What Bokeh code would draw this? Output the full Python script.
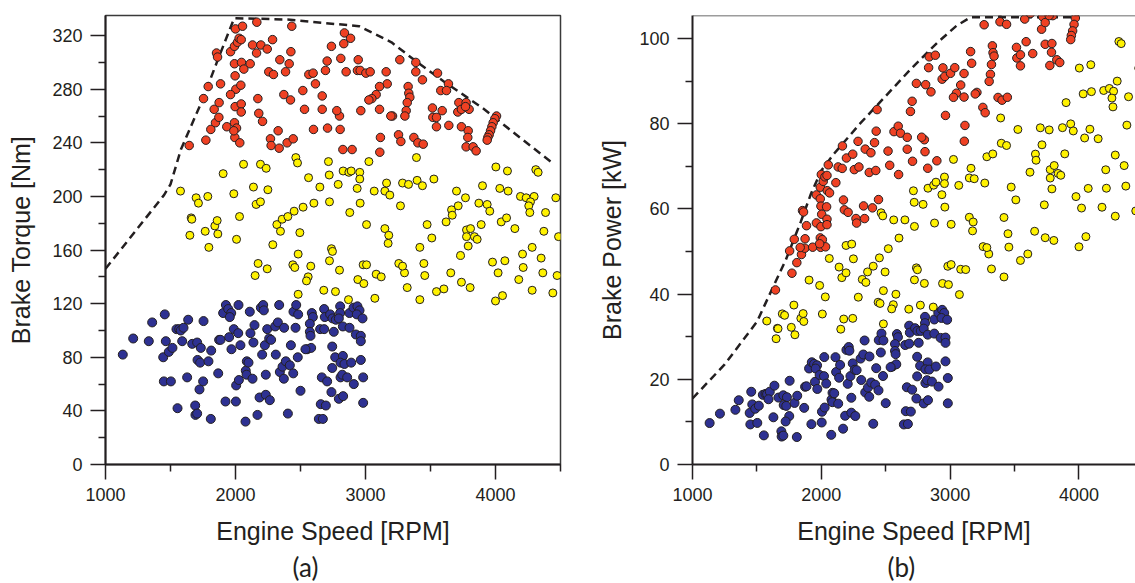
import math
from bokeh.plotting import figure
from bokeh.layouts import row
from bokeh.models import FixedTicker, Span, Title, Range1d
from bokeh.embed import file_html
from bokeh.resources import INLINE

# ---------------- data ----------------
blue_rpm = [1133, 1213, 1333, 1359, 1456, 1464, 1444, 1487, 1515, 1449,
            1503, 1554, 1546, 1567, 1579, 1600, 1636, 1590, 1628, 1667,
            1705, 1733, 1754, 1708, 1728, 1792, 1813, 1751, 1723, 1690,
            1692, 1705, 1810, 1867, 1874, 1885, 1905, 1926, 1944, 1967,
            1956, 1951, 1969, 1987, 2021, 2038, 2023, 1923, 2003, 2005,
            2026, 2079, 2085, 2087, 2100, 2131, 2077, 2110, 2115, 2138,
            2146, 2185, 2169, 2205, 2195, 2213, 2218, 2226, 2244, 2233,
            2264, 2233, 2259, 2274, 2305, 2310, 2336, 2326, 2341, 2362,
            2374, 2387, 2372, 2418, 2403, 2426, 2444, 2446, 2467, 2462,
            2479, 2500, 2482,
            2587, 2595, 2572, 2572, 2577, 2551, 2582, 2538, 2682, 2687,
            2728, 2746, 2772, 2805, 2805, 2795, 2826, 2877, 2877, 2908,
            2938, 2954, 2933, 2977, 2651, 2682, 2756, 2926, 2964, 2964,
            2744, 2767, 2826, 2808, 2838, 2890, 2964, 2744, 2664, 2705,
            2808, 2821, 2859, 2982, 2910, 2738, 2795, 2828, 2982, 2656,
            2695, 2641, 2672]
blue_torque = [82, 94, 92, 106, 112, 92, 80, 84, 87, 62,
               62, 42, 101, 101, 100, 102, 108, 92, 65, 90,
               91, 87, 107, 78, 76, 77, 85, 62, 56, 44,
               37, 38, 34, 68, 93, 93, 113, 119, 116, 113,
               110, 95, 86, 101, 98, 89, 119, 47, 47, 59,
               63, 70, 67, 77, 76, 64, 32, 114, 98, 91,
               104, 50, 37, 82, 117, 119, 115, 89, 101, 52,
               48, 67, 94, 93, 103, 82, 119, 106, 69, 73,
               102, 77, 64, 74, 38, 89, 68, 114, 119, 102,
               80, 55, 112,
               113, 110, 105, 99, 96, 86, 87, 86, 116, 110,
               112, 109, 108, 118, 113, 109, 103, 113, 102, 117,
               118, 115, 112, 109, 101, 101, 99, 97, 96, 92,
               88, 80, 81, 76, 75, 76, 78, 72, 65, 62,
               65, 67, 65, 65, 60, 54, 49, 51, 46, 45,
               44, 34, 34]

yellow_rpm = [1577, 1697, 1715, 1787, 1659, 1664, 1649, 1767, 1841, 1859,
              1864, 1795, 1905, 1987, 2031, 2008, 2062, 2138, 2159, 2192,
              2249, 2192, 2236, 2318, 2346, 2359, 2403, 2451, 2464, 2477,
              2287, 2495,
              2174, 2151, 2244, 2441, 2456, 2482, 2482,
              2715, 3026, 3392, 2562, 2649, 2721, 2790, 2828, 2872, 2890,
              2956, 2956, 2936, 3067, 3149, 3162, 3187, 3285, 3331, 3397,
              3438, 3526, 2603, 2723, 2959, 2879, 3269, 3008, 3149, 3179,
              3174, 2738, 3418, 3510, 3474, 3620, 3662, 3667, 3713, 3700,
              3769, 3872, 3936, 3956, 3900, 4003, 4092, 4310, 4328, 4033,
              4097, 4192, 4236, 4297, 4269, 4256, 4264, 4464, 4385, 3890,
              4044, 4085, 4149, 3777, 3808, 3777, 3838, 3859, 3790, 4282,
              4372, 4485, 2520,
              2579, 2559, 2546, 2723, 2800, 2679, 2769, 2869, 2941, 2987,
              2982, 3008, 3082, 3121, 3072, 3256, 3300, 3285, 3321, 3418,
              3449, 3456, 3546, 3603, 3656, 3731, 3738, 3805, 3977, 4020,
              4072, 4000, 4054, 4179, 4213, 4208, 4282, 4351, 4364, 4441,
              4474, 2746]
yellow_torque = [204, 199, 195, 200, 184, 183, 171, 174, 178, 182,
                 172, 162, 217, 202, 185, 168, 224, 207, 194, 196,
                 205, 224, 221, 179, 174, 183, 185, 189, 229, 225,
                 164, 173,
                 150, 141, 146, 149, 147, 127, 157,
                 226, 226, 229, 214, 207, 216, 209, 219, 218, 219,
                 218, 213, 206, 204, 204, 210, 201, 210, 209, 212,
                 208, 213, 195, 196, 195, 188, 193, 179, 176, 171,
                 165, 161, 162, 169, 179, 181, 190, 186, 193, 204,
                 199, 195, 194, 189, 208, 222, 219, 220, 218, 206,
                 204, 200, 199, 200, 196, 193, 188, 199, 188, 179,
                 181, 184, 176, 175, 176, 170, 170, 168, 163, 162,
                 174, 170, 192,
                 148, 140, 137, 152, 145, 130, 129, 123, 138, 135,
                 149, 149, 142, 140, 124, 150, 143, 148, 132, 123,
                 150, 141, 129, 131, 143, 156, 136, 132, 151, 143,
                 152, 122, 126, 138, 147, 157, 130, 154, 143, 128,
                 141, 159]

red_rpm = [1644, 1772, 1810, 1846, 1872, 1836, 1874, 1754, 1790, 1885,
           1854, 1862, 1962, 1992, 2000, 2054, 2015, 2028, 2044, 2164,
           2131, 2162, 2195, 2244, 2285, 2433, 2426, 2341, 2413, 2385,
           2256, 2292, 1992, 2046, 2113, 2064, 1997, 2003, 2041, 1962,
           2172, 2372, 2423, 1997, 2044, 2044, 2179, 2208, 1933, 1992,
           2008, 1995, 2033, 1987, 2269, 2328, 2274, 2336, 2397, 2444,
           2838, 2885, 2833, 2738, 2705, 2810, 2944, 2692, 2851, 2938,
           2959, 3003, 3036, 3159, 3264, 3387, 3387, 3438, 3554, 3638,
           3579, 3623, 2564, 2597, 2615, 2518, 2667, 3167, 3108, 3082,
           3049, 3026, 3328, 3333, 3341, 3321, 3313, 3303, 3208, 3195,
           3108, 2964, 2800, 2779, 2667, 2531, 3515, 3518, 3546, 3590,
           3546, 3641, 3718, 3774, 3710, 3738, 3797, 3769, 3738, 3790,
           3787, 3774, 3828, 3851, 4008, 3995, 3982, 3972, 3962, 3951,
           3941, 3936, 2600, 2708, 2805, 2826, 2897, 3115, 3110, 3254,
           3272, 3372, 3403, 3444]
red_torque = [238, 242, 250, 255, 259, 265, 270, 273, 282, 284,
              307, 304, 308, 312, 325, 327, 315, 318, 317, 330,
              313, 307, 313, 310, 317, 327, 308, 302, 299, 293,
              293, 291, 299, 300, 299, 295, 290, 280, 283, 276,
              273, 276, 272, 267, 269, 263, 262, 256, 252, 255,
              251, 244, 240, 249, 243, 249, 238, 236, 240, 243,
              322, 318, 314, 312, 301, 303, 302, 294, 293, 294,
              294, 292, 293, 293, 302, 300, 293, 287, 292, 284,
              279, 279, 291, 292, 284, 279, 275, 284, 282, 276,
              273, 272, 282, 277, 274, 270, 264, 260, 260, 260,
              265, 264, 260, 264, 265, 265, 266, 259, 259, 264,
              252, 253, 270, 270, 263, 265, 265, 267, 252, 249,
              244, 237, 237, 234, 260, 258, 255, 252, 249, 246,
              244, 242, 250, 251, 250, 235, 235, 244, 233, 246,
              241, 244, 240, 239]

# dashed boundary curves
torque_curve_rpm = [1000, 1450, 1500, 1580, 1750, 1860, 1990, 2400, 2950, 3200,
                    3400, 3600, 3900, 4200, 4450]
torque_curve_nm = [146, 201, 209, 235, 273, 301, 333, 332, 327, 315,
                   300, 286, 266, 243, 224]
power_curve_rpm = [1000, 1250, 1500, 1600, 1724, 1841, 1919, 2000, 2100, 2300,
                   2500, 2700, 2900, 3050, 3160, 3960]
power_curve_kw = [15.5, 23.5, 33.5, 40, 48, 57, 63.5, 69, 73, 80,
                  86.5, 93, 99, 103, 105, 105]


def to_kw(rpm, torque):
    # brake power = torque x angular speed
    return [t * r * math.pi / 30.0 / 1000.0 for r, t in zip(rpm, torque)]


blue_kw = to_kw(blue_rpm, blue_torque)
yellow_kw = to_kw(yellow_rpm, yellow_torque)
red_kw = to_kw(red_rpm, red_torque)

INK = "#231f20"
BLUE = "#2e3192"
YELLOW = "#fff200"
RED = "#ef4123"
AXFONT = "Liberation Sans"


def style(p, ymaj, ymin, ylabel, lab_standoff):
    p.xaxis.ticker = FixedTicker(ticks=[1000, 2000, 3000, 4000],
                                 minor_ticks=[1500, 2500, 3500, 4500])
    p.yaxis.ticker = FixedTicker(ticks=ymaj, minor_ticks=ymin)
    p.xaxis.axis_label = "Engine Speed [RPM]"
    p.yaxis.axis_label = ylabel
    for ax in (p.xaxis[0], p.yaxis[0]):
        ax.axis_line_color = INK
        ax.axis_line_width = 2
        ax.major_tick_line_color = INK
        ax.minor_tick_line_color = INK
        ax.major_tick_line_width = 1.5
        ax.minor_tick_line_width = 1.5
        ax.major_tick_out = 15
        ax.major_tick_in = 0
        ax.minor_tick_out = 7
        ax.minor_tick_in = 0
        ax.major_label_text_font = AXFONT
        ax.major_label_text_font_size = "18px"
        ax.major_label_text_color = INK
        ax.axis_label_text_font = AXFONT
        ax.axis_label_text_font_size = "25px"
        ax.axis_label_text_font_style = "normal"
        ax.axis_label_text_color = INK
        ax.major_label_standoff = 8
    p.xaxis.axis_label_standoff = 13
    p.yaxis.axis_label_standoff = lab_standoff
    p.xgrid.visible = False
    p.ygrid.visible = False
    p.background_fill_color = "white"
    p.border_fill_color = "white"


def panel_title(text, offset):
    return Title(text=text, align="left", offset=offset, standoff=2, text_font="Lato",
                 text_font_size="26px", text_font_style="normal", text_color=INK)


# ---------------- panel (a) ----------------
p1 = figure(width=580, height=583, output_backend="svg", toolbar_location=None,
            x_range=Range1d(1000, 4500), y_range=Range1d(0, 335),
            min_border_left=105, min_border_right=20, min_border_top=12,
            min_border_bottom=116)
style(p1, list(range(0, 321, 40)), list(range(20, 335, 40)), "Brake Torque [Nm]", 14)
p1.outline_line_color = "#3a3a3a"
p1.outline_line_width = 1.5
p1.line(torque_curve_rpm, torque_curve_nm, line_color=INK, line_width=2.5, line_dash="8 5")
p1.scatter(blue_rpm, blue_torque, size=9, fill_color=BLUE, line_color=INK, line_width=1)
p1.scatter(yellow_rpm, yellow_torque, size=8, fill_color=YELLOW, line_color=INK, line_width=1)
p1.scatter(red_rpm, red_torque, size=8.5, fill_color=RED, line_color=INK, line_width=1)
p1.add_layout(panel_title("(a)", 187), "below")

# ---------------- panel (b) ----------------
p2 = figure(width=555, height=583, output_backend="svg", toolbar_location=None,
            x_range=Range1d(1000, 4439), y_range=Range1d(0, 105.4),
            min_border_left=112, min_border_right=0, min_border_top=15,
            min_border_bottom=116)
style(p2, list(range(0, 101, 20)), list(range(10, 101, 20)), "Brake Power [kW]", 10)
p2.outline_line_color = None
p2.add_layout(Span(location=105.4, dimension="width", line_color="#3a3a3a", line_width=1.5))
p2.line(power_curve_rpm, power_curve_kw, line_color=INK, line_width=2.5, line_dash="8 5")
p2.scatter(blue_rpm, blue_kw, size=9, fill_color=BLUE, line_color=INK, line_width=1)
p2.scatter(yellow_rpm, yellow_kw, size=8, fill_color=YELLOW, line_color=INK, line_width=1)
p2.scatter(red_rpm, red_kw, size=8.5, fill_color=RED, line_color=INK, line_width=1)
p2.add_layout(panel_title("(b)", 195), "below")

layout = row(p1, p2)
open("out.html", "w").write(file_html(layout, INLINE))
